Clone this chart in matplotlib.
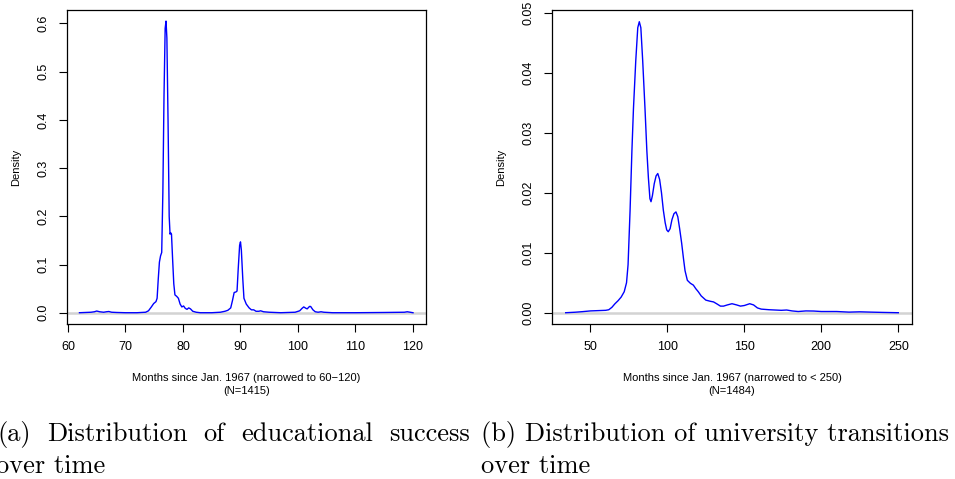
import matplotlib
matplotlib.use('Agg')
import matplotlib.pyplot as plt
import numpy as np

# (a) educational success, months since Jan. 1967
edu_x = [62.0, 63.0, 64.0, 64.6, 65.0, 65.5, 66.2, 66.7, 67.1, 67.6, 68.5, 70.0, 72.0,
         73.5, 74.0, 74.5, 74.9, 75.3, 75.5, 75.7, 75.9, 76.1, 76.3, 76.5, 76.7, 76.9,
         77.05, 77.2, 77.4, 77.6, 77.75, 77.85, 78.0, 78.2, 78.4, 78.6, 78.9, 79.2,
         79.5, 79.8, 80.1, 80.4, 80.7, 81.0, 81.3, 81.7, 82.3, 83.0, 85.0, 86.5, 87.3,
         87.8, 88.3, 88.6, 88.9, 89.2, 89.4, 89.6, 89.85, 90.0, 90.15, 90.4, 90.6,
         91.0, 91.5, 91.9, 92.3, 92.7, 93.2, 93.5, 94.0, 95.0, 97.0, 99.5, 100.3,
         100.7, 101.0, 101.4, 101.6, 102.0, 102.2, 102.6, 103.0, 103.5, 104.0, 104.5,
         106.0, 110.0, 115.0, 118.5, 119.0, 119.5, 120.0]
edu_y = [0.0, 0.0005, 0.001, 0.002, 0.0035, 0.002, 0.001, 0.002, 0.0025, 0.001, 0.0005,
         0.0, 0.0, 0.001, 0.004, 0.012, 0.019, 0.023, 0.03, 0.07, 0.105, 0.118, 0.125,
         0.25, 0.45, 0.59, 0.605, 0.57, 0.40, 0.20, 0.163, 0.166, 0.163, 0.11, 0.06,
         0.037, 0.034, 0.030, 0.018, 0.012, 0.014, 0.009, 0.007, 0.010, 0.008, 0.003,
         0.001, 0.0, 0.0, 0.001, 0.003, 0.005, 0.010, 0.025, 0.042, 0.043, 0.045, 0.09,
         0.14, 0.147, 0.13, 0.07, 0.03, 0.018, 0.010, 0.006, 0.006, 0.003, 0.003, 0.004,
         0.002, 0.001, 0.0, 0.001, 0.004, 0.009, 0.012, 0.009, 0.008, 0.013, 0.013,
         0.006, 0.002, 0.001, 0.002, 0.001, 0.0, 0.0, 0.0005, 0.001, 0.002, 0.001, 0.0]

# (b) university transitions
uni_x = [34, 40, 45, 50, 55, 60, 62, 64, 66, 68, 70, 72, 73.5, 74.5, 75.8, 77, 78, 79.5,
         80.8, 81.8, 82.8, 84, 85.5, 86.7, 87.7, 88.7, 89.4, 90.3, 91.5, 92.7, 93.8, 95,
         96.2, 97.4, 98.6, 99.6, 100.6, 101.8, 103, 104.3, 105.6, 106.8, 108, 109.3,
         110.5, 111.5, 113, 115, 116.9, 118.5, 120.1, 122, 125, 128, 130, 132, 134.5,
         136.5, 139, 142, 145, 147.5, 150, 153.5, 156, 158.5, 161, 166, 170, 174, 177.5,
         181, 185, 190, 195, 200, 210, 218, 225, 232, 240, 250]
uni_y = [0.0, 0.00008, 0.00018, 0.0003, 0.00035, 0.0004, 0.0005, 0.0009, 0.0015, 0.002,
         0.0026, 0.0035, 0.005, 0.008, 0.017, 0.027, 0.034, 0.042, 0.0475, 0.0485,
         0.0475, 0.042, 0.034, 0.027, 0.0225, 0.019, 0.0185, 0.0195, 0.0215, 0.0228,
         0.0232, 0.0222, 0.02, 0.0171, 0.015, 0.0138, 0.0135, 0.014, 0.0155, 0.0165,
         0.0168, 0.016, 0.014, 0.0116, 0.009, 0.007, 0.0054, 0.0049, 0.0046, 0.004,
         0.0035, 0.0028, 0.0021, 0.0019, 0.0018, 0.0015, 0.0011, 0.0011, 0.0013, 0.0015,
         0.0013, 0.0011, 0.0012, 0.0015, 0.0013, 0.0008, 0.0006, 0.0005, 0.00045, 0.0004,
         0.00045, 0.0003, 0.0002, 0.0003, 0.00028, 0.0002, 0.0002, 0.0001, 0.00015,
         0.0001, 0.00005, 0.0]

edu_xticks = [60, 70, 80, 90, 100, 110, 120]
edu_yticks = [0.0, 0.1, 0.2, 0.3, 0.4, 0.5, 0.6]
edu_ylabels = ['0.0', '0.1', '0.2', '0.3', '0.4', '0.5', '0.6']
uni_xticks = [50, 100, 150, 200, 250]
uni_yticks = [0.0, 0.01, 0.02, 0.03, 0.04, 0.05]
uni_ylabels = ['0.00', '0.01', '0.02', '0.03', '0.04', '0.05']

edu_xlabel = 'Months since Jan. 1967 (narrowed to 60\u2212120)\n(N=1415)'
uni_xlabel = 'Months since Jan. 1967 (narrowed to < 250)\n(N=1484)'

caption_a = ['(a)', 'Distribution', 'of', 'educational', 'success']
caption_b = '(b) Distribution of university transitions'

plt.rcParams['font.family'] = 'Liberation Sans'

W, H = 955, 479
fig = plt.figure(figsize=(W / 100, H / 100), dpi=100)


def box(x0, y0, x1, y1):
    return [x0 / W, 1 - y1 / H, (x1 - x0) / W, (y1 - y0) / H]


def density_panel(rect, x, y, xticks, yticks, ylabels, xlabel, xlim, ylim):
    ax = fig.add_axes(rect)
    ax.axhline(0, color='#d3d3d3', lw=1.8, zorder=1)
    ax.plot(x, y, color='#0000ff', lw=1.0, zorder=2)
    ax.set_xlim(*xlim)
    ax.set_ylim(*ylim)
    ax.set_xticks(xticks)
    ax.set_xticklabels([str(t) for t in xticks])
    ax.set_yticks(yticks)
    ax.set_yticklabels(ylabels, rotation=90, va='center')
    ax.tick_params(direction='out', length=5.5, width=0.8, labelsize=9, pad=7)
    for s in ax.spines.values():
        s.set_linewidth(0.9)
    ax.set_xlabel(xlabel, fontsize=8, labelpad=14, linespacing=1.35)
    ax.set_ylabel('Density', fontsize=8, labelpad=12)
    return ax


density_panel(box(67, 10, 426, 324), edu_x, edu_y, edu_xticks, edu_yticks, edu_ylabels,
              edu_xlabel, (59.83, 122.26), (-0.0234, 0.628))
density_panel(box(552, 10, 912, 324), uni_x, uni_y, uni_xticks, uni_yticks, uni_ylabels,
              uni_xlabel, (25.1, 258.9), (-0.00188, 0.05045))

# captions, serif; (a) first line is justified between x0 and x1
cap = dict(family='cmr10', fontsize=19, va='baseline', ha='left')
y1 = 1 - 441 / H
y2 = 1 - 472.7 / H
renderer = fig.canvas.get_renderer()
words = [fig.text(0, y1, w, **cap) for w in caption_a]
widths = [t.get_window_extent(renderer).width for t in words]
x0, x1 = -3, 470
gap = (x1 - x0 - sum(widths)) / (len(words) - 1)
px = x0
for t, w in zip(words, widths):
    t.set_x(px / W)
    px += w + gap
fig.text(-4 / W, y2, 'over time', **cap)
fig.text(481 / W, y1, caption_b, **cap)
fig.text(481 / W, y2, 'over time', **cap)

fig.savefig('out.png', dpi=100)
